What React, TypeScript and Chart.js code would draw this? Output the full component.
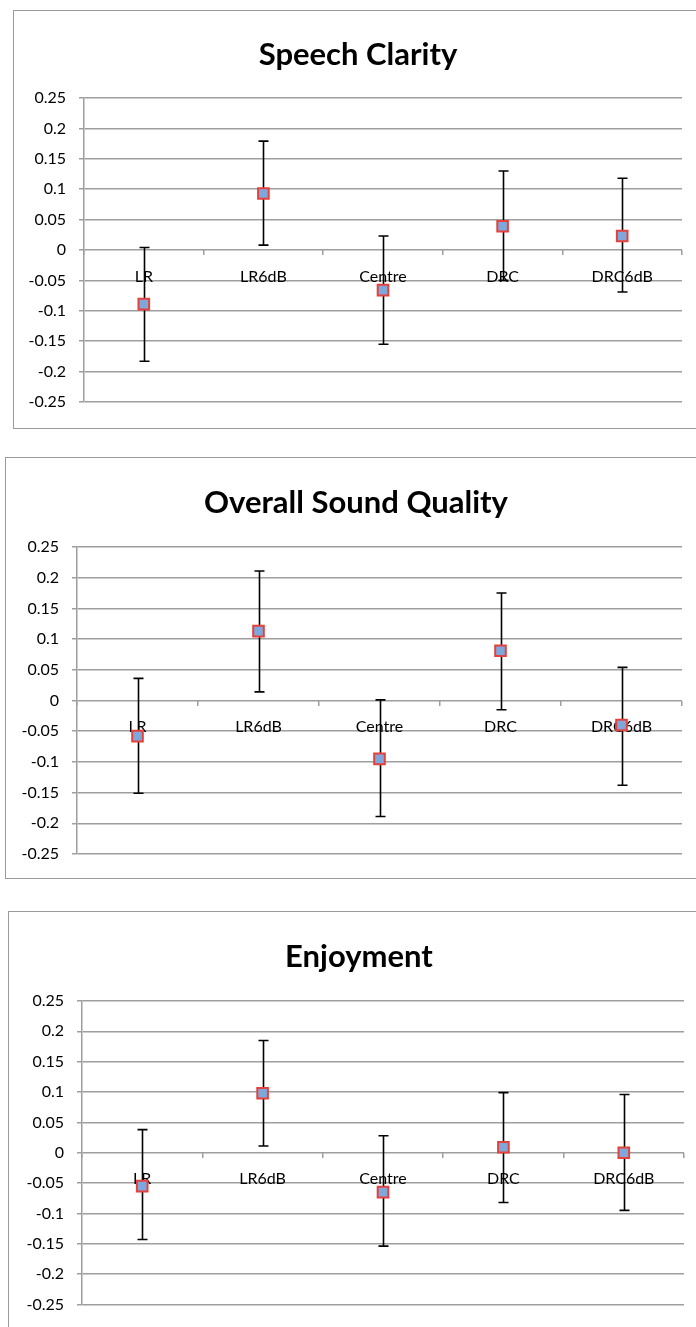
import React, { useEffect, useRef } from "react";
import { Chart, registerables } from "chart.js";

Chart.register(...registerables);

// ---- data ----
const categories = ["LR", "LR6dB", "Centre", "DRC", "DRC6dB"];
const yTicksMin = -0.25;
const yTicksMax = 0.25;
const yTickStep = 0.05;

const clarityTitle = "Speech Clarity";
const clarityMean = [-0.089, 0.093, -0.066, 0.039, 0.023];
const clarityUpper = [0.004, 0.179, 0.023, 0.13, 0.118];
const clarityLower = [-0.183, 0.008, -0.155, -0.05, -0.069];

const qualityTitle = "Overall Sound Quality";
const qualityMean = [-0.058, 0.113, -0.095, 0.081, -0.04];
const qualityUpper = [0.036, 0.211, 0.001, 0.175, 0.054];
const qualityLower = [-0.151, 0.014, -0.189, -0.015, -0.138];

const enjoyTitle = "Enjoyment";
const enjoyMean = [-0.055, 0.098, -0.065, 0.009, 0.0];
const enjoyUpper = [0.038, 0.185, 0.028, 0.099, 0.096];
const enjoyLower = [-0.143, 0.011, -0.154, -0.082, -0.095];

// ---- layout (page pixels) ----
type Layout = {
  left: number;
  top: number;
  height: number;
  bottomBorder: boolean;
  canvasW: number;
  rightGap: number;
  padB: number;
  yWidth: number;
  titleTop: number;
  titleBottom: number;
};

const FONT = "Lato, 'Open Sans', sans-serif";
const GRID = "#9e9e9e";

function ErrorChart(props: {
  title: string;
  means: number[];
  upper: number[];
  lower: number[];
  layout: Layout;
}) {
  const { title, means, upper, lower, layout } = props;
  const ref = useRef<HTMLCanvasElement | null>(null);
  const canvasH = layout.height - 1 - (layout.bottomBorder ? 1 : 0);

  useEffect(() => {
    if (!ref.current) return;
    const errorBars = {
      id: "errorBars",
      beforeDatasetsDraw(chart: any) {
        const ctx = chart.ctx;
        const xs = chart.scales.x;
        const ys = chart.scales.y;
        ctx.save();
        ctx.strokeStyle = "#000";
        ctx.lineWidth = 1.6;
        upper.forEach((u, i) => {
          const px = Math.round(xs.getPixelForValue(i)) + 0.5;
          const yt = ys.getPixelForValue(u);
          const yb = ys.getPixelForValue(lower[i]);
          ctx.beginPath();
          ctx.moveTo(px, yt);
          ctx.lineTo(px, yb);
          ctx.moveTo(px - 5, yt);
          ctx.lineTo(px + 5, yt);
          ctx.moveTo(px - 5, yb);
          ctx.lineTo(px + 5, yb);
          ctx.stroke();
        });
        ctx.restore();
      },
    };

    const chart = new Chart(ref.current, {
      type: "line",
      data: {
        labels: categories,
        datasets: [
          {
            data: means,
            yAxisID: "y",
            showLine: false,
            pointStyle: "rect",
            pointRadius: 7.5,
            pointBorderWidth: 2,
            pointBackgroundColor: "#7ea7dc",
            pointBorderColor: "#e5413a",
          },
        ],
      },
      options: {
        animation: false,
        responsive: false,
        devicePixelRatio: 1,
        layout: {
          padding: { left: 0, right: 0, top: 0, bottom: layout.padB },
        },
        plugins: {
          legend: { display: false },
          tooltip: { enabled: false },
          title: {
            display: true,
            text: title,
            color: "#000",
            font: { family: FONT, size: 31, weight: "bold", lineHeight: 1.2 },
            padding: { top: layout.titleTop, bottom: layout.titleBottom },
          },
        },
        scales: {
          x: {
            type: "category",
            offset: true,
            position: { y: 0 } as any,
            grid: {
              offset: true,
              drawOnChartArea: false,
              drawTicks: true,
              tickLength: 5,
              color: GRID,
              lineWidth: 1.5,
            },
            border: { display: false },
            ticks: {
              color: "#000",
              font: { family: FONT, size: 16 },
              padding: 12,
              maxRotation: 0,
              autoSkip: false,
            },
          },
          y: {
            min: yTicksMin,
            max: yTicksMax,
            position: "left",
            afterFit: (s: any) => {
              s.width = layout.yWidth;
            },
            grid: { color: GRID, lineWidth: 1.5, tickLength: 5 },
            border: { color: GRID, width: 1.5 },
            ticks: {
              stepSize: yTickStep,
              color: "#000",
              font: { family: FONT, size: 16 },
              padding: 13,
              callback: (v: any) => String(Math.round(Number(v) * 100) / 100),
            },
          },
          // empty spacer on the right so the title centres like the original box
          spacer: {
            type: "linear",
            position: "right",
            min: 0,
            max: 1,
            afterFit: (s: any) => {
              s.width = layout.rightGap;
            },
            grid: { display: false, drawOnChartArea: false },
            border: { display: false },
            ticks: { display: false },
          },
        },
      },
      plugins: [errorBars],
    });
    return () => chart.destroy();
  }, []);

  return (
    <div
      style={{
        position: "absolute",
        left: layout.left,
        top: layout.top,
        width: 696 - layout.left,
        height: layout.height,
        boxSizing: "border-box",
        overflow: "hidden",
        borderLeft: "1px solid #9a9a9a",
        borderTop: "1px solid #9a9a9a",
        borderBottom: layout.bottomBorder ? "1px solid #9a9a9a" : "none",
        background: "#fff",
      }}
    >
      <canvas ref={ref} width={layout.canvasW} height={canvasH} style={{ display: "block" }} />
    </div>
  );
}

// chart 1: box 13..696 x 10..428, plot 84..682 x 98..402, title centre x 358
const layout1: Layout = {
  left: 13, top: 10, height: 419, bottomBorder: true,
  canvasW: 688, rightGap: 20, padB: 26, yWidth: 70,
  titleTop: 24.9, titleBottom: 24.9,
};
// chart 2: box 5..696 x 457..878, plot 77..682 x 547..854, title centre x 356
const layout2: Layout = {
  left: 5, top: 457, height: 422, bottomBorder: true,
  canvasW: 700, rightGap: 24, padB: 24, yWidth: 71,
  titleTop: 25.9, titleBottom: 25.9,
};
// chart 3: box 8..696 x 911..1327+, plot 82..684 x 1001..1308, title centre x 359
const layout3: Layout = {
  left: 8, top: 911, height: 416, bottomBorder: false,
  canvasW: 700, rightGap: 25, padB: 19, yWidth: 73,
  titleTop: 26.1, titleBottom: 25.7,
};

export default function App() {
  useEffect(() => {
    document.body.style.overflow = "hidden";
  }, []);
  return (
    <div>
      <ErrorChart title={clarityTitle} means={clarityMean} upper={clarityUpper} lower={clarityLower} layout={layout1} />
      <ErrorChart title={qualityTitle} means={qualityMean} upper={qualityUpper} lower={qualityLower} layout={layout2} />
      <ErrorChart title={enjoyTitle} means={enjoyMean} upper={enjoyUpper} lower={enjoyLower} layout={layout3} />
    </div>
  );
}
